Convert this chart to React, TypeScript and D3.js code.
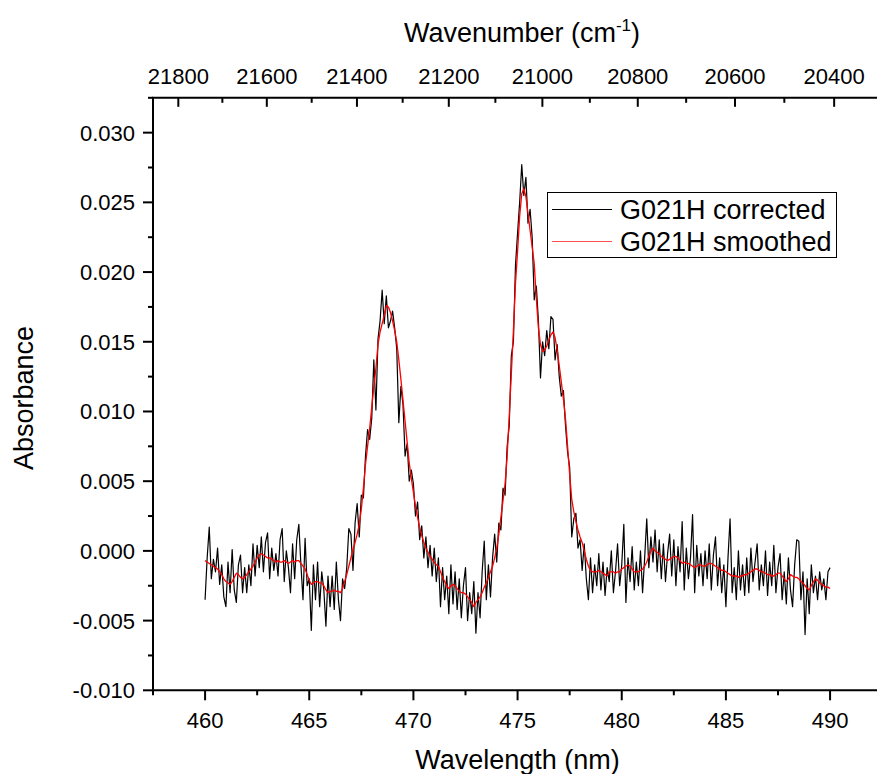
import React from "react";
import * as d3 from "d3";

// Wavelength grid (nm): start and step of the recorded spectrum
const WL_START = 460;
const WL_STEP = 0.1;

// G021H corrected (absorbance x 1e-4), 460.0 … 490.0 nm
const correctedE4 = [
  -35, -5, 17, -20, -6, -15, 2, -24, -10, -33,
  -40, -8, -30, 1, -28, -37, -10, -3, -30, -12,
  -30, -10, -25, 5, -18, 4, -12, 10, -15, 6,
  13, -20, 2, -14, -2, -18, 8, 16, -22, 0,
  -12, -30, 5, -20, 8, 19, -10, -35, 9, -25,
  -20, -57, -10, -35, -8, -40, -15, -28, -54, -18,
  -40, -18, -42, -8, -35, -50, -20, -27, -12, 16,
  12, -14, 20, 34, 10, 40, 38, 68, 87, 80,
  95, 137, 101, 152, 165, 187, 163, 183, 160, 165,
  172, 160, 145, 92, 118, 105, 68, 77, 50, 58,
  48, 25, 35, 8, 18, -5, 10, -12, 4, -18,
  2, -22, -5, -40, -12, -35, -18, -45, -10, -38,
  -15, -42, -20, -48, -25, -12, -50, -30, -45, -22,
  -59, -30, -48, -15, 7, -35, -10, -33, -5, 12,
  -8, 20, 15, 45, 40, 75, 90, 140, 150, 205,
  228, 250, 277, 255, 268, 235, 245, 225, 180, 190,
  165, 124, 150, 140, 158, 145, 168, 166, 137, 148,
  125, 111, 115, 90, 71, 60, 10, 23, 27, 2,
  8, -14, 5, -20, -35, -5, -30, -10, -25, -2,
  -28, -8, -32, -12, -22, 0, -30, -15, 5, -25,
  -10, 19, -37, -5, -22, 3, -28, -8, -25, 0,
  -30, -5, 23, -12, 10, -8, 15, -15, 8, -20,
  5, -22, -2, 12, -18, 8, -25, 3, -15, 21,
  -28, 2, -20, -5, 26, -30, 4, -18, -2, -25,
  0, -20, 5, -28, -3, 10, -25, -5, -30, -10,
  -40, -5, 23, -30, -12, -35, 0, -28, -10, -32,
  -5, -30, 2, -22, -8, 5, -28, -10, -25, 0,
  -32, -8, -25, 4, -30, -12, -2, -35, -15, -38,
  -5, -28, -40, -10, 8, 7, -35, -15, -60, -20,
  -45, -10, -30, -18, -35, -15, -28, -20, -35, -15,
  -12,
];

// G021H smoothed (absorbance x 1e-4), 460.0 … 490.0 nm
const smoothedE4 = [
  -7, -8, -9, -10, -11, -12, -13, -15, -17, -20,
  -22, -23, -24, -22, -19, -16, -17, -19, -20, -19,
  -17, -15, -13, -11, -8, -5, -3, -2, -3, -4,
  -5, -5, -6, -7, -8, -7, -8, -8, -7, -8,
  -9, -8, -7, -8, -7, -7, -9, -11, -13, -17,
  -21, -24, -23, -22, -22, -23, -23, -25, -28, -30,
  -29, -29, -28, -29, -29, -30, -27, -22, -17, -11,
  -5, 1, 6, 12, 19, 30, 45, 62, 75, 88,
  103, 118, 131, 148, 157, 163, 169, 176, 175, 171,
  165, 158, 150, 137, 123, 108, 93, 78, 63, 52,
  42, 32, 24, 17, 11, 6, 2, -1, -4, -6,
  -8, -10, -11, -15, -19, -22, -25, -27, -25, -24,
  -25, -27, -29, -30, -30, -31, -33, -35, -37, -40,
  -37, -35, -33, -30, -26, -23, -19, -15, -11, -5,
  2, 12, 24, 36, 48, 68, 97, 127, 158, 192,
  215, 240, 256, 260, 254, 242, 230, 218, 206, 181,
  160, 148, 143, 144, 147, 151, 155, 157, 153, 144,
  133, 121, 109, 95, 75, 55, 37, 28, 21, 15,
  10, 6, 0, -6, -11, -14, -15, -15, -15, -14,
  -15, -16, -17, -18, -15, -15, -15, -16, -15, -15,
  -13, -12, -11, -10, -11, -13, -15, -15, -15, -14,
  -13, -11, -8, -4, 0, 2, 0, -1, -2, -4,
  -5, -6, -7, -6, -5, -4, -4, -5, -7, -9,
  -8, -9, -9, -10, -11, -12, -11, -10, -10, -11,
  -11, -10, -9, -9, -10, -11, -12, -13, -14, -14,
  -15, -16, -17, -18, -18, -18, -19, -18, -18, -17,
  -17, -16, -15, -14, -13, -13, -14, -15, -15, -16,
  -17, -17, -18, -18, -17, -16, -16, -18, -20, -22,
  -20, -17, -18, -19, -19, -20, -22, -23, -25, -27,
  -28, -25, -22, -20, -21, -23, -24, -25, -26, -26,
  -27,
];

const seriesNames = ["G021H corrected", "G021H smoothed"];
const seriesColors = ["#000000", "#ff0000"];
const legendSwatchColors = ["#000000", "#ff5050"];

const xMajorTicks = [460, 465, 470, 475, 480, 485, 490];
const xMinorTicks = [457.5, 462.5, 467.5, 472.5, 477.5, 482.5, 487.5, 492.5];
const yMajorTicks = [-0.01, -0.005, 0, 0.005, 0.01, 0.015, 0.02, 0.025, 0.03];
const yMinorTicks = [-0.0075, -0.0025, 0.0025, 0.0075, 0.0125, 0.0175, 0.0225, 0.0275, 0.0325];
const wnMajorTicks = [21800, 21600, 21400, 21200, 21000, 20800, 20600, 20400];
const wnMinorTicks = [21700, 21500, 21300, 21100, 20900, 20700, 20500];

const W = 877;
const H = 774;
const FONT = "'Liberation Sans', Arial, Helvetica, sans-serif";

export default function App() {
  const left = 153;
  const top = 97.8;
  const bottom = 690.3;
  const x = d3.scaleLinear().domain([457.5, 492.5]).range([left, left + 35 * 20.833]);
  const y = d3.scaleLinear().domain([-0.01, 0.0325]).range([bottom, top]);
  const right = x(492.5);

  const n = Math.min(correctedE4.length, smoothedE4.length);
  const pts = d3.range(n).map((i) => ({
    wl: WL_START + i * WL_STEP,
    c: correctedE4[i] * 1e-4,
    s: smoothedE4[i] * 1e-4,
  }));

  const lineC = d3.line<any>().x((d) => x(d.wl)).y((d) => y(d.c));
  const lineS = d3.line<any>().x((d) => x(d.wl)).y((d) => y(d.s));

  const wnX = (wn: number) => x(1e7 / wn);

  const tickFont = 22;
  const titleFont = 27;
  const legendFont = 27;

  const legX = 547.5;
  const legY = 192.5;
  const legW = 289;
  const legH = 65;
  const rowY = [209.5, 241.5];

  return (
    <svg
      width={W}
      height={H}
      style={{ position: "absolute", left: 0, top: 0, background: "#fff" }}
      fontFamily={FONT}
    >
      <rect x={0} y={0} width={W} height={H} fill="#fff" />

      {/* data */}
      <path d={lineC(pts) || ""} fill="none" stroke={seriesColors[0]} strokeWidth={1.2} strokeLinejoin="round" />
      <path d={lineS(pts) || ""} fill="none" stroke={seriesColors[1]} strokeWidth={1.3} strokeLinejoin="round" />

      {/* axes lines */}
      <g stroke="#000" strokeWidth={2} fill="none">
        <line x1={left} y1={top} x2={left} y2={bottom} />
        <line x1={left - 1} y1={bottom} x2={right} y2={bottom} />
        <line x1={left - 1} y1={top} x2={right} y2={top} />
      </g>

      {/* ticks */}
      <g stroke="#000" strokeWidth={2}>
        {xMajorTicks.map((t) => (
          <line key={"xM" + t} x1={x(t)} x2={x(t)} y1={bottom} y2={bottom + 10} />
        ))}
        {xMinorTicks.map((t) => (
          <line key={"xm" + t} x1={x(t)} x2={x(t)} y1={bottom} y2={bottom + 5} />
        ))}
        {yMajorTicks.map((t) => (
          <line key={"yM" + t} x1={left - 10} x2={left} y1={y(t)} y2={y(t)} />
        ))}
        {yMinorTicks.map((t) => (
          <line key={"ym" + t} x1={left - 5} x2={left} y1={y(t)} y2={y(t)} />
        ))}
        {wnMajorTicks.map((t) => (
          <line key={"wM" + t} x1={wnX(t)} x2={wnX(t)} y1={top} y2={top + 9} />
        ))}
        {wnMinorTicks.map((t) => (
          <line key={"wm" + t} x1={wnX(t)} x2={wnX(t)} y1={top} y2={top + 5} />
        ))}
      </g>

      {/* tick labels */}
      <g fontSize={tickFont} fill="#000">
        {xMajorTicks.map((t) => (
          <text key={"xl" + t} x={x(t)} y={728} textAnchor="middle">
            {t}
          </text>
        ))}
        {yMajorTicks.map((t) => (
          <text key={"yl" + t} x={135} y={y(t) + 8} textAnchor="end">
            {d3.format(".3f")(t).replace("−", "-")}
          </text>
        ))}
        {wnMajorTicks.map((t) => (
          <text key={"wl" + t} x={wnX(t)} y={84} textAnchor="middle">
            {t}
          </text>
        ))}
      </g>

      {/* axis titles */}
      <text x={522} y={42} fontSize={titleFont} textAnchor="middle">
        Wavenumber (cm
        <tspan fontSize={17} dy={-11}>-1</tspan>
        <tspan dy={11}>)</tspan>
      </text>
      <text x={517.5} y={769} fontSize={titleFont} textAnchor="middle">
        Wavelength (nm)
      </text>
      <text
        transform={`translate(33, 398) rotate(-90)`}
        fontSize={titleFont}
        textAnchor="middle"
      >
        Absorbance
      </text>

      {/* legend */}
      <rect x={legX} y={legY} width={legW} height={legH} fill="#fff" stroke="#000" strokeWidth={1} />
      {seriesNames.map((name, i) => (
        <g key={name}>
          <line
            x1={552}
            x2={612}
            y1={rowY[i]}
            y2={rowY[i]}
            stroke={legendSwatchColors[i]}
            strokeWidth={1}
          />
          <text x={620} y={rowY[i] + 9} fontSize={legendFont}>
            {name}
          </text>
        </g>
      ))}
    </svg>
  );
}
